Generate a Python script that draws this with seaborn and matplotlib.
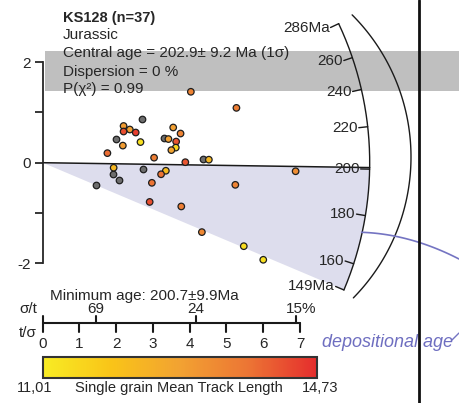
import numpy as np
import pandas as pd
import matplotlib.pyplot as plt
import matplotlib.colors as mcolors
from matplotlib.cm import ScalarMappable
from matplotlib.patches import Polygon
import seaborn as sns

# --- grain data ---
# x = t/sigma (precision), y = standardised estimate, MTL = single grain mean track length (nan = no length)
T_SIGMA = [2.71, 2.20, 2.37, 2.20, 2.53, 1.99, 2.18, 2.66, 1.76, 3.55,
           3.75, 3.31, 3.42, 3.63, 3.62, 3.50, 3.03, 3.88, 1.93, 1.91,
           2.08, 2.74, 3.35, 3.22, 2.97, 1.45, 4.03, 5.27, 4.36, 4.52,
           2.91, 3.77, 4.33, 5.47, 6.00, 5.24, 6.88]
Z_STD = [0.87, 0.73, 0.66, 0.62, 0.60, 0.48, 0.34, 0.41, 0.19, 0.70,
         0.58, 0.49, 0.47, 0.42, 0.30, 0.25, 0.10, 0.01, -0.10, -0.22,
         -0.35, -0.13, -0.16, -0.23, -0.40, -0.44, 1.41, 1.09, 0.08, 0.06,
         -0.78, -0.87, -1.38, -1.66, -1.93, -0.44, -0.17]
MTL = [np.nan, 13.0, 12.9, 14.3, 14.5, np.nan, 13.0, 11.3, 13.9, 12.9,
       13.5, np.nan, 12.9, 14.2, 11.5, 12.8, 13.6, 14.2, 12.3, np.nan,
       np.nan, np.nan, 12.2, 13.8, 13.8, np.nan, 13.5, 13.6, np.nan, 12.3,
       14.3, 13.6, 13.4, 11.4, 11.3, 13.5, 13.3]

CENTRAL_AGE = 202.9
MIN_AGE = 200.7
ARC_AGES = [149, 160, 180, 200, 220, 240, 260, 286]
ARC_LABELS = ["149Ma", "160", "180", "200", "220", "240", "260", "286Ma"]
TSIG_TICKS = [0, 1, 2, 3, 4, 5, 6, 7]
SIGT_POS = [1.45, 4.17, 6.9]
SIGT_LABELS = ["69", "24", "15%"]
MTL_MIN, MTL_MAX = 11.01, 14.73

# --- layout (pixels of the 459x403 canvas) ---
W, H = 459, 403
X0, Y0 = 42.7, 162.7          # pixel of the plot origin
PX_X, PX_Y = 36.76, 50.3      # pixels per data unit
R_ARC = 327                   # radius of the age arc (px)


def fx(px):
    return px / W


def fy(py):
    return 1 - py / H


def dy(py):
    return (Y0 - py) / PX_Y


def dx(px):
    return (px - X0) / PX_X


def arc_point(age, r=R_ARC):
    phi = np.arctan(PX_Y / PX_X * np.log(age / CENTRAL_AGE))
    return r * np.cos(phi) / PX_X, r * np.sin(phi) / PX_Y


sns.set_style("white")
plt.rcParams['font.family'] = ['Liberation Sans', 'DejaVu Sans']

fig = plt.figure(figsize=(W / 100, H / 100), dpi=100)
ax = fig.add_axes([0, 0, 1, 1])
ax.patch.set_alpha(0)
ax.set_xlim(dx(0), dx(W))
ax.set_ylim(dy(H), dy(0))

# y axis
for side in ["top", "right", "bottom"]:
    ax.spines[side].set_visible(False)
ax.spines["left"].set_position(("data", 0))
ax.spines["left"].set_bounds(-2, 2)
ax.spines["left"].set_linewidth(1.3)
ax.set_xticks([])
ax.set_yticks([-2, -1, 0, 1, 2])
ax.set_yticklabels(["-2", "", "0", "", "2"])
ax.tick_params(axis="y", direction="out", length=6, width=1.3, pad=2.5, labelsize=11, left=True)

# grey band
ax.axhspan(dy(91), dy(51), xmin=fx(45), xmax=1, color="#bfbfbf", lw=0, zorder=1)

# minimum age wedge
ages_w = np.linspace(149, MIN_AGE, 60)
wx, wy = arc_point(ages_w)
wedge = Polygon(np.column_stack([np.r_[0, wx], np.r_[0, wy]]), closed=True,
                facecolor="#dddded", edgecolor="none", zorder=1)
ax.add_patch(wedge)

# central line
lx, ly = arc_point(MIN_AGE)
ax.plot([0, lx], [0, ly], color="#1a1a1a", lw=1.1, zorder=2)

# age arc with ticks and labels
ages_a = np.linspace(ARC_AGES[0], ARC_AGES[-1], 200)
ax_, ay_ = arc_point(ages_a)
ax.plot(ax_, ay_, color="#1a1a1a", lw=1.0, zorder=2)
for age, lab in zip(ARC_AGES, ARC_LABELS):
    x1, y1 = arc_point(age)
    x2, y2 = arc_point(age, R_ARC - 9)
    x3, y3 = arc_point(age, R_ARC - 10)
    ax.plot([x1, x2], [y1, y2], color="#1a1a1a", lw=1.0, zorder=2)
    ax.text(x3, y3, lab, ha="right", va="center", fontsize=11, zorder=4)

# outer arc (pixel circle centre (210,157), r=201)
a = np.radians(np.linspace(-44.5, 45, 100))
ax.plot(dx(210) + 201 / PX_X * np.cos(a), dy(157) + 201 / PX_Y * np.sin(a),
        color="#1a1a1a", lw=1.0, zorder=2)

# grains
df = pd.DataFrame({"tsig": T_SIGMA, "z": Z_STD, "mtl": MTL})
cmap = mcolors.LinearSegmentedColormap.from_list(
    "mtl", ["#f8ec24", "#f9c418", "#f2a232", "#ec7534", "#e52d2d"])
norm = mcolors.Normalize(MTL_MIN, MTL_MAX)
sns.scatterplot(data=df[df["mtl"].isna()], x="tsig", y="z", color="#6d6d6d",
                s=22, edgecolor="#1e1e1e", linewidth=0.9, ax=ax, zorder=3, legend=False)
sns.scatterplot(data=df[df["mtl"].notna()], x="tsig", y="z", hue="mtl", palette=cmap,
                hue_norm=norm, s=22, edgecolor="#1e1e1e", linewidth=0.9, ax=ax,
                zorder=3, legend=False)
ax.set_xlabel("")
ax.set_ylabel("")

# right-hand frame line
ax.axvline(dx(419), color="#111111", lw=2, zorder=5)

# depositional age pointer
cpx = np.array([361.7, 420, 459])
cpy = np.array([232.3, 242.7, 259])
coef = np.polyfit(cpx, cpy, 2)
xs = np.linspace(361.7, 459, 60)
ax.plot(dx(xs), dy(np.polyval(coef, xs)), color="#7474c2", lw=1.2, zorder=2)
ax.plot([dx(452), dx(459)], [dy(340), dy(333)], color="#7474c2", lw=1.0, zorder=2)
ax.text(fx(322), fy(347), "depositional age", ha="left", va="baseline",
        fontsize=13, style="italic", color="#6e6ec0", zorder=2, transform=fig.transFigure)

# t/sigma and sigma/t scale
ys = dy(323)
ax.plot([TSIG_TICKS[0], TSIG_TICKS[-1]], [ys, ys], color="#1a1a1a", lw=1.5, clip_on=False)
for t in TSIG_TICKS:
    ax.plot([t, t], [ys, dy(331.7)], color="#1a1a1a", lw=1.5)
    fig.text(fx(X0 + t * PX_X), fy(348), str(t), ha="center", va="baseline", fontsize=11)
ax.plot([0, 0], [ys, dy(316)], color="#1a1a1a", lw=1.5)
for p, lab in zip(SIGT_POS, SIGT_LABELS):
    ax.plot([p, p], [ys, dy(316)], color="#1a1a1a", lw=1.5)
    fig.text(fx(X0 + p * PX_X + (5 if "%" in lab else 0)), fy(313), lab,
             ha="center", va="baseline", fontsize=11)
fig.text(fx(19), fy(313), "σ/t", ha="left", va="baseline", fontsize=11)
fig.text(fx(19), fy(337), "t/σ", ha="left", va="baseline", fontsize=11)
fig.text(fx(50), fy(300), f"Minimum age: {MIN_AGE}±9.9Ma", ha="left", va="baseline", fontsize=11)

# header text
fig.text(fx(63), fy(21.7), "KS128 (n=37)", fontsize=10.5, weight="bold", va="baseline")
fig.text(fx(63), fy(39.3), "Jurassic", fontsize=11, va="baseline")
fig.text(fx(63), fy(57.5), f"Central age = {CENTRAL_AGE}± 9.2 Ma (1σ)", fontsize=11, va="baseline")
fig.text(fx(63), fy(75.8), "Dispersion = 0 %", fontsize=11, va="baseline")
fig.text(fx(63), fy(93), "P(χ²) = 0.99", fontsize=11, va="baseline")

# colour bar
cax = fig.add_axes([fx(42.7), fy(378), (317 - 42.7) / W, 21 / H])
cb = fig.colorbar(ScalarMappable(norm=norm, cmap=cmap), cax=cax, orientation="horizontal")
cb.set_ticks([])
cb.outline.set_linewidth(1.5)
cb.outline.set_edgecolor("#333333")
fig.text(fx(35), fy(391.7), "11,01", ha="center", va="baseline", fontsize=10.5)
fig.text(fx(179), fy(391.7), "Single grain Mean Track Length", ha="center", va="baseline", fontsize=10.5)
fig.text(fx(320), fy(391.7), "14,73", ha="center", va="baseline", fontsize=10.5)

fig.savefig("out.png", dpi=100)
